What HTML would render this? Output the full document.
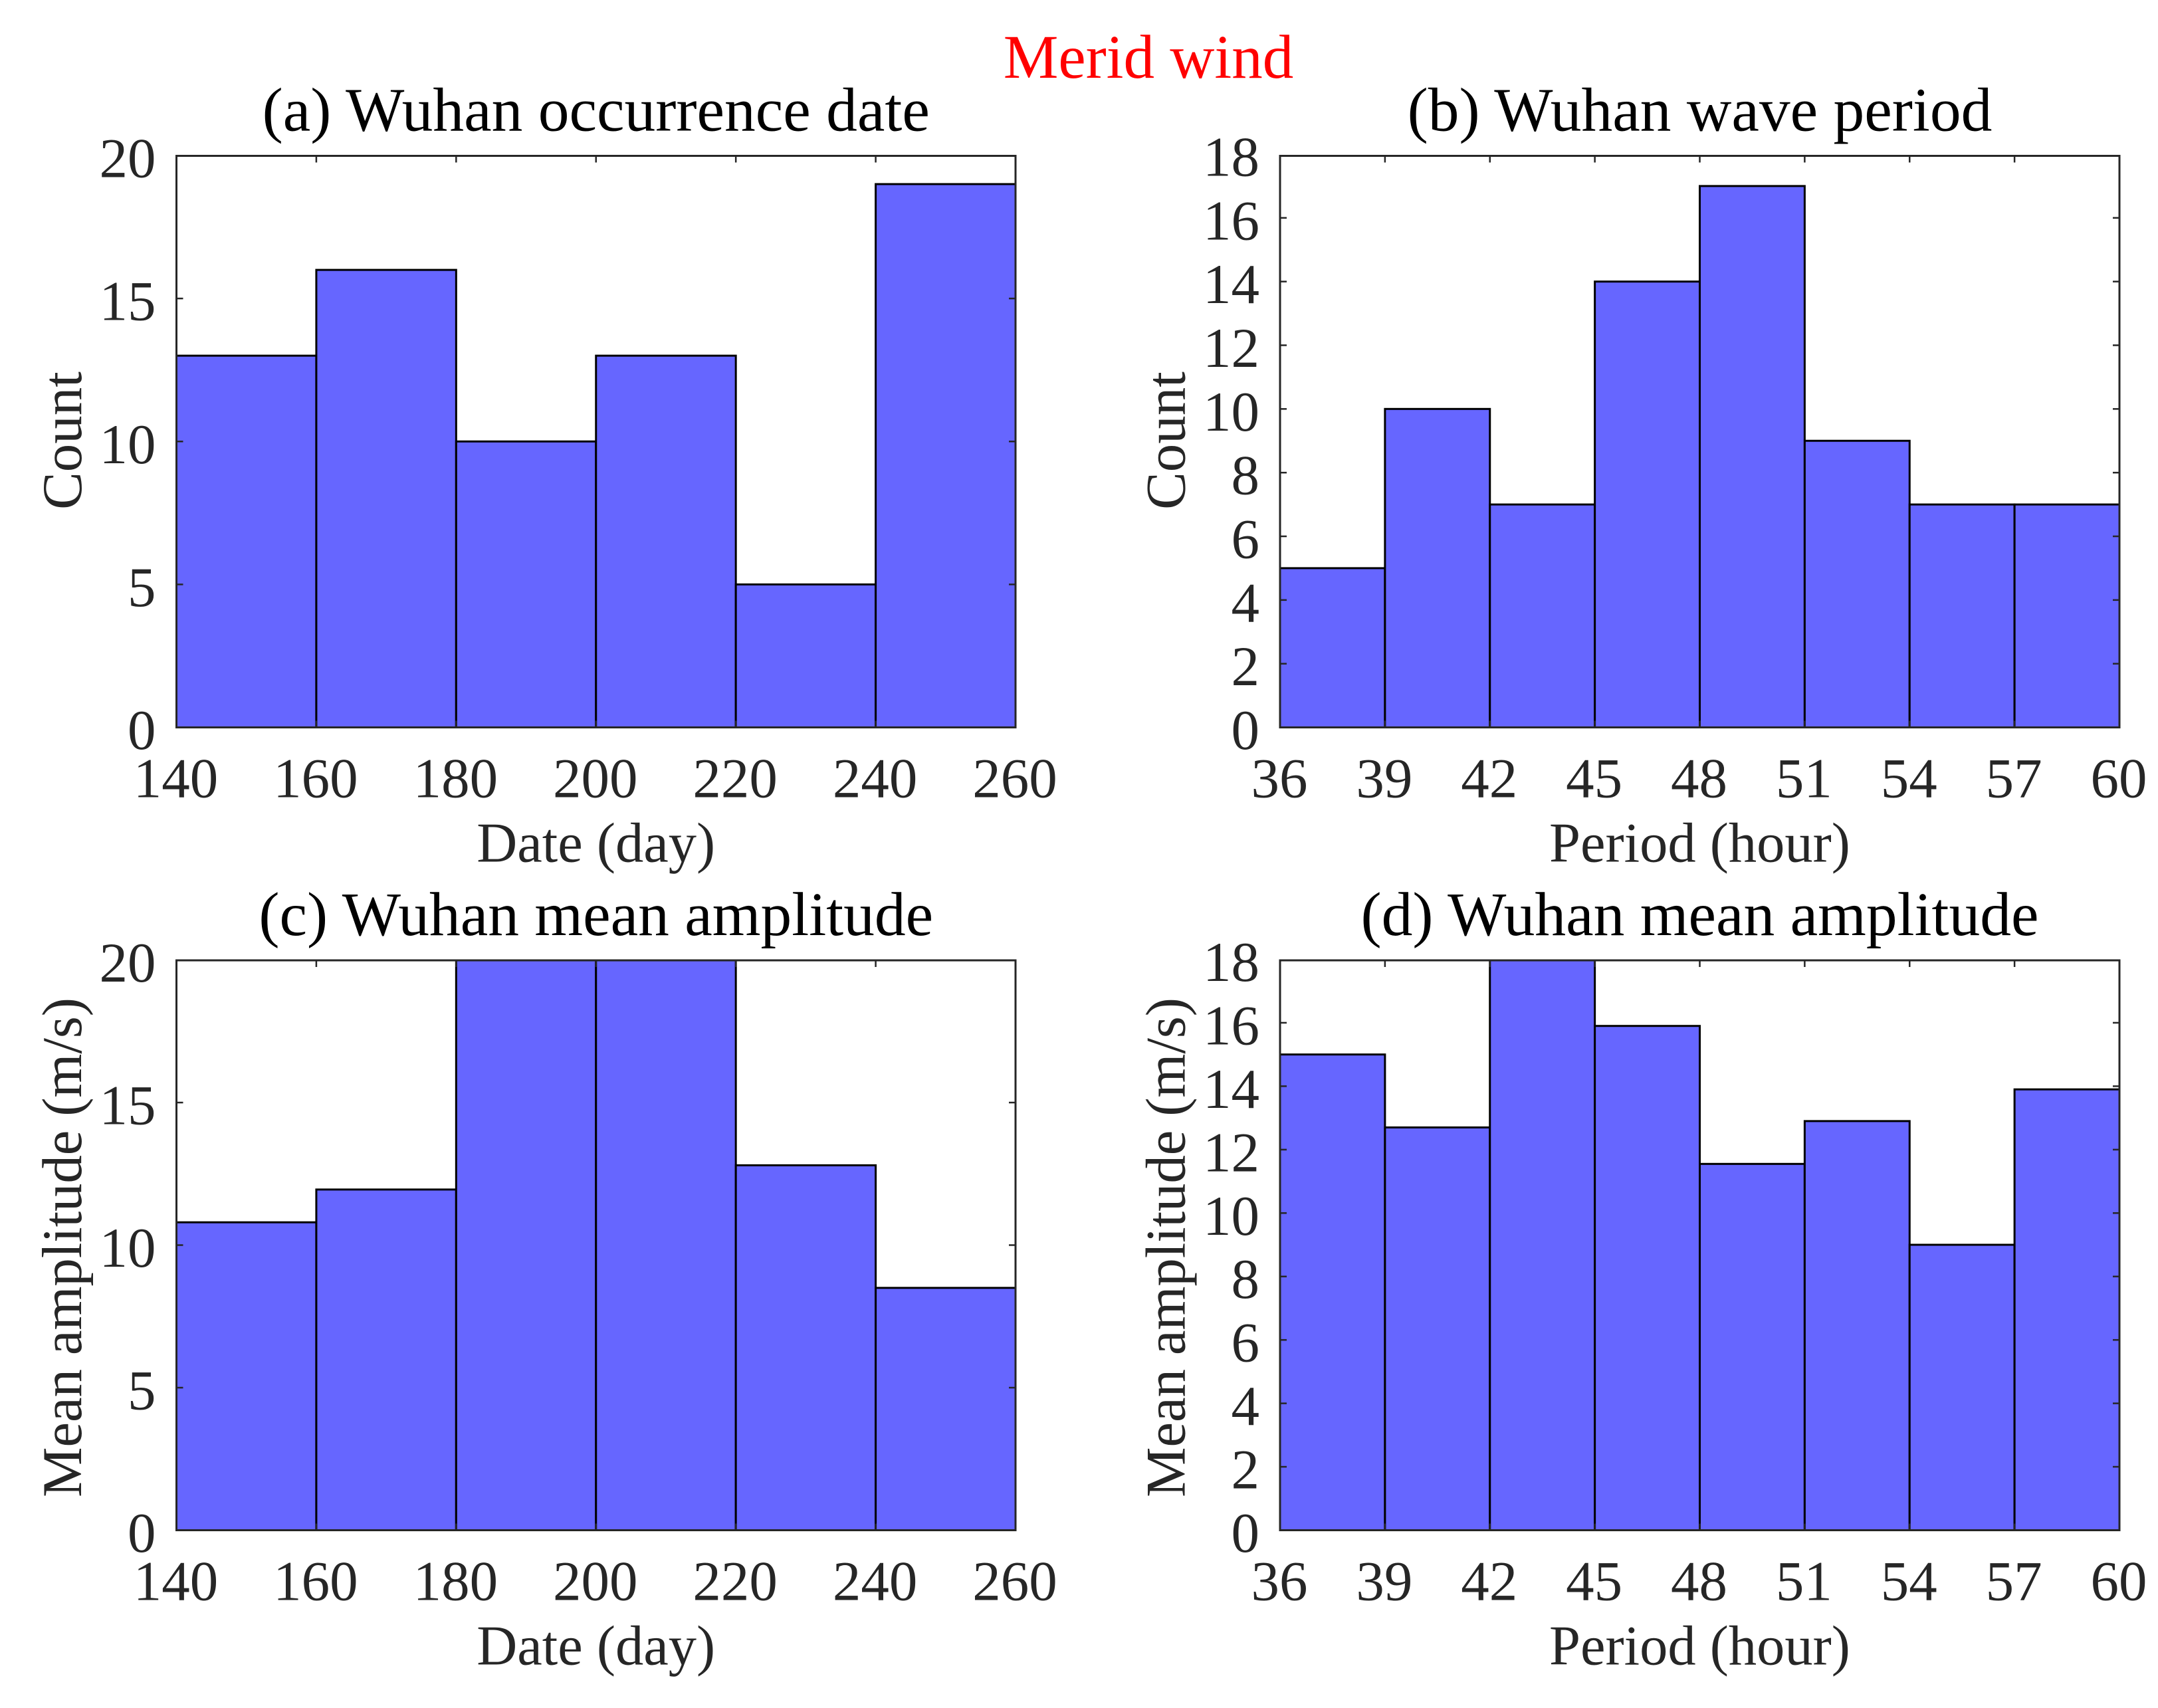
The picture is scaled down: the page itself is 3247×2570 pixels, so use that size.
<!DOCTYPE html>
<html lang="en">
<head>
<meta charset="utf-8">
<title>Merid wind</title>
<style>
html,body{margin:0;padding:0;background:#fff;}
svg{display:block;font-family:"Liberation Serif",serif;}
</style>
</head>
<body>
<svg id="figure" xmlns="http://www.w3.org/2000/svg" width="3247" height="2570" viewBox="0 0 3247 2570">
  <rect x="0" y="0" width="3247" height="2570" fill="#ffffff"/>
  <text x="1728" y="117" font-size="93" fill="#ff0000" text-anchor="middle">Merid wind</text>
</svg>
<script>
// Chart data
const dateEdges = [140, 160, 180, 200, 220, 240, 260];
const periodEdges = [36, 39, 42, 45, 48, 51, 54, 57, 60];
const dateTicks = [140, 160, 180, 200, 220, 240, 260];
const periodTicks = [36, 39, 42, 45, 48, 51, 54, 57, 60];
const dateValueTicks = [0, 5, 10, 15, 20];
const periodValueTicks = [0, 2, 4, 6, 8, 10, 12, 14, 16, 18];
const occurrenceCounts = [13, 16, 10, 13, 5, 19];
const periodCounts = [5, 10, 7, 14, 17, 9, 7, 7];
const dateAmplitudes = [10.8, 11.95, 21, 21, 12.8, 8.5];
const periodAmplitudes = [15, 12.7, 19, 15.9, 11.55, 12.9, 9, 13.9];

const SVG_NS = 'http://www.w3.org/2000/svg';
const figure = document.getElementById('figure');

function make(tag, parent, attrs, content) {
  const el = document.createElementNS(SVG_NS, tag);
  for (const k in attrs) el.setAttribute(k, attrs[k]);
  if (content !== undefined) el.textContent = content;
  parent.appendChild(el);
  return el;
}

function drawPanel(p) {
  const xScale = v => p.left + (v - p.edges[0]) / (p.edges[p.edges.length - 1] - p.edges[0]) * (p.right - p.left);
  const yScale = v => p.bottom - (v - p.yTicks[0]) / (p.yTicks[p.yTicks.length - 1] - p.yTicks[0]) * (p.bottom - p.scaleTop);

  const group = make('g', figure, {});
  
  

  const clip = make('clipPath', group, { id: 'clip-' + p.id });
  make('rect', clip, { x: p.left, y: p.top, width: p.right - p.left, height: p.bottom - p.top });

  const title = make('text', group, { x: (p.left + p.right) / 2, y: p.top - 38, 'font-size': 93.5, fill: '#000', 'text-anchor': 'middle' }, p.title);
  
  

  const bars = make('g', group, { 'clip-path': 'url(#clip-' + p.id + ')' });
  
  
  p.values.forEach((value, i) => {
    const x0 = xScale(p.edges[i]);
    const x1 = xScale(p.edges[i + 1]);
    const y = yScale(value);
    const bar = make('rect', bars, { x: x0, y: y, width: x1 - x0, height: p.bottom - y, fill: '#6666ff', stroke: '#000', 'stroke-width': 3 });
    
    
  });

  p.xTicks.forEach(tick => {
    const x = xScale(tick);
    make('line', group, { x1: x, x2: x, y1: p.bottom, y2: p.bottom - 10, stroke: '#262626', 'stroke-width': 2.5 });
    make('line', group, { x1: x, x2: x, y1: p.top, y2: p.top + 10, stroke: '#262626', 'stroke-width': 2.5 });
    const label = make('text', group, { x: x - 1, y: p.bottom + 105, 'font-size': 85, fill: '#262626', 'text-anchor': 'middle' }, String(tick));
    
    
  });

  p.yTicks.forEach(tick => {
    const y = yScale(tick);
    if (y > p.top + 1 && y < p.bottom - 1) {
      make('line', group, { x1: p.left, x2: p.left + 10, y1: y, y2: y, stroke: '#262626', 'stroke-width': 2.5 });
      make('line', group, { x1: p.right, x2: p.right - 10, y1: y, y2: y, stroke: '#262626', 'stroke-width': 2.5 });
    }
    const label = make('text', group, { x: p.left - 31, y: y + 32.5, 'font-size': 85, fill: '#262626', 'text-anchor': 'end' }, String(tick));
    
    
  });

  const frame = make('rect', group, { x: p.left, y: p.top, width: p.right - p.left, height: p.bottom - p.top, fill: 'none', stroke: '#262626', 'stroke-width': 3 });
  
  

  const xLabel = make('text', group, { x: (p.left + p.right) / 2, y: p.bottom + 202, 'font-size': 84.5, fill: '#262626', 'text-anchor': 'middle' }, p.xLabel);
  
  

  const yLabel = make('text', group, { x: 0, y: 0, transform: 'translate(' + (p.left - 143.5) + ' ' + p.yLabelCenter + ') rotate(-90)', 'font-size': 85, fill: '#262626', 'text-anchor': 'middle' }, p.yLabel);
  if (p.yLabelLength) yLabel.setAttribute('textLength', p.yLabelLength);
  
  
}

drawPanel({ id: 'a', title: '(a) Wuhan occurrence date', xLabel: 'Date (day)', yLabel: 'Count', yLabelCenter: 663,
  left: 265.5, right: 1528, top: 234.5, scaleTop: 234, bottom: 1094.5,
  edges: dateEdges, values: occurrenceCounts, xTicks: dateTicks, yTicks: dateValueTicks });
drawPanel({ id: 'b', title: '(b) Wuhan wave period', xLabel: 'Period (hour)', yLabel: 'Count', yLabelCenter: 663,
  left: 1926, right: 3189, top: 234.5, scaleTop: 232, bottom: 1094.5,
  edges: periodEdges, values: periodCounts, xTicks: periodTicks, yTicks: periodValueTicks });
drawPanel({ id: 'c', title: '(c) Wuhan mean amplitude', xLabel: 'Date (day)', yLabel: 'Mean amplitude (m/s)', yLabelCenter: 1877, yLabelLength: 752,
  left: 265.5, right: 1528, top: 1445, scaleTop: 1444.5, bottom: 2302.5,
  edges: dateEdges, values: dateAmplitudes, xTicks: dateTicks, yTicks: dateValueTicks });
drawPanel({ id: 'd', title: '(d) Wuhan mean amplitude', xLabel: 'Period (hour)', yLabel: 'Mean amplitude (m/s)', yLabelCenter: 1877, yLabelLength: 752,
  left: 1926, right: 3189, top: 1445, scaleTop: 1443.5, bottom: 2302.5,
  edges: periodEdges, values: periodAmplitudes, xTicks: periodTicks, yTicks: periodValueTicks });
</script>
</body>
</html>
